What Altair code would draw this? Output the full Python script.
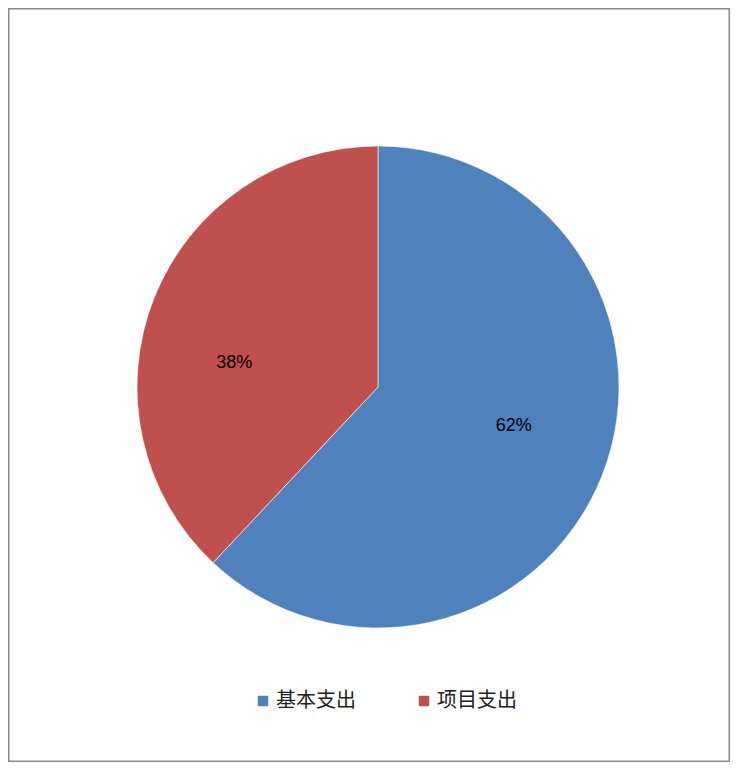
import altair as alt
import pandas as pd

categories = ["基本支出", "项目支出"]
shares = [62, 38]
labels = ["62%", "38%"]
colors = ["#4F81BD", "#C0504D"]

df = pd.DataFrame({"cat": categories, "value": shares, "label": labels, "ord": [0, 1]})

CX, CY = 370, 379
R = 241

base = alt.Chart(df).encode(
    theta=alt.Theta("value:Q", stack=True),
    order=alt.Order("ord:Q"),
)

pie = base.mark_arc(outerRadius=R, stroke="#ffffff", strokeWidth=0.6).encode(
    x=alt.value(CX),
    y=alt.value(CY),
    color=alt.Color(
        "cat:N",
        scale=alt.Scale(domain=categories, range=colors),
        legend=alt.Legend(
            title=None,
            orient="none",
            legendX=245,
            legendY=683,
            direction="horizontal",
            symbolType="square",
            symbolSize=110,
            symbolStrokeWidth=0,
            labelFont="Noto Sans CJK SC",
            labelFontSize=20,
            labelColor="#222222",
            labelOffset=3,
            columnPadding=58,
        ),
    ),
)

stacked = (
    alt.Chart(df)
    .transform_stack(stack="value", groupby=[], as_=["v0", "v1"], sort=[alt.SortField("ord")])
    .transform_calculate(mid="(datum.v0 + datum.v1) / 2")
)

def label_layer(cat, dx, dy):
    return stacked.transform_filter(alt.datum.cat == cat).mark_text(
        radius=146, font="Liberation Sans", fontSize=18, color="#000000", dx=dx, dy=dy
    ).encode(
        theta=alt.Theta("mid:Q", scale=alt.Scale(domain=[0, 100]), stack=False),
        x=alt.value(CX),
        y=alt.value(CY),
        text="label:N",
    )

text_blue = label_layer(categories[0], 0, -15)
text_red = label_layer(categories[1], -8, 30)

chart = (
    alt.layer(pie, text_blue, text_red)
    .resolve_scale(theta="independent")
    .properties(width=722, height=754, padding=0, background="#ffffff")
    .configure_view(stroke="#898989", strokeWidth=3)
)

chart.save("out.html", embed_options={"renderer": "svg", "actions": False})
